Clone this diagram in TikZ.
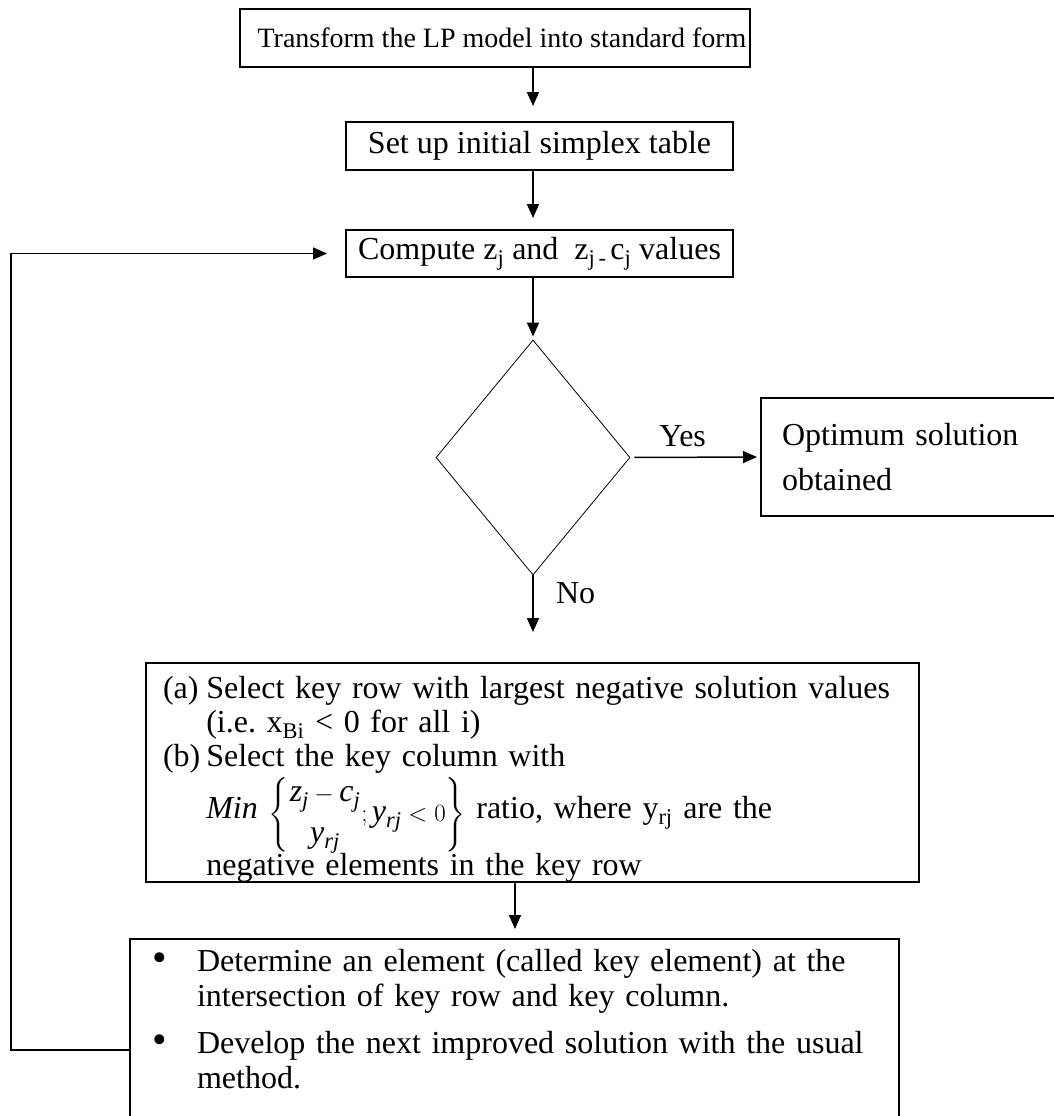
\documentclass[tikz,border=0pt]{standalone}
\usepackage{fontspec}
\setmainfont{Liberation Serif}
\usepackage{amsmath}
\usetikzlibrary{arrows.meta, shapes.geometric, positioning}

\begin{document}
\begin{tikzpicture}[x=1pt, y=-1pt,
    every node/.style={font=\fontsize{32}{34}\selectfont},
    box/.style={draw, line width=1.5pt, inner sep=0pt, outer sep=0pt},
    arr/.style={-{Triangle[length=14pt,width=12pt]}, line width=1.5pt}]
  \useasboundingbox (0,0) rectangle (1053,1116);
  % boxes down the middle
  \node[box, minimum width=510pt, minimum height=58pt, font=\fontsize{28}{34}\selectfont] (std) at (495,38) {\hspace*{14pt}Transform the LP model into standard form};
  \node[box, minimum width=387pt, minimum height=48pt] (init) at (539.5,146) {Set up initial simplex table};
  \node[box, minimum width=387pt, minimum height=47pt] (comp) at (539.5,253.5) {Compute z\textsubscript{j} and \ z\textsubscript{j\,-\,}c\textsubscript{j} values};
  \node[draw, diamond, aspect=0.83, minimum width=194pt, minimum height=235pt, inner sep=0pt, line width=0.8pt] (dec) at (533,457.5) {};
  \node[box, anchor=west, text width=280pt, inner xsep=21pt, minimum height=118pt, align=left, font=\fontsize{32}{45}\selectfont] (opt) at (761,457) {Optimum solution\\obtained};
  % key row / key column
  \node[box, text width=739pt, inner xsep=17pt, minimum height=219pt, align=left] (key) at (532.5,772.5) {%
    \raisebox{-7.5pt}[\height][\depth]{\begin{tabular}{@{}l@{\hspace{6pt}}l@{}}
      (a) & Select key row with largest negative solution values\\
          & (i.e.\ x\textsubscript{Bi} < 0 for all i)\\
      (b) & Select the key column with\\
          & \raisebox{0pt}[42pt][33pt]{$\mathit{Min}\ \raisebox{-3pt}{$\left\{\genfrac{}{}{0pt}{0}{\mathit{z}_{\mathit{j}}-\mathit{c}_{\mathit{j}}\rule[-7pt]{0pt}{7pt}}{\rule{0pt}{23pt}\mathit{y}_{\mathit{rj}}};\mathit{y}_{\mathit{rj}}<0\right\}$}$} ratio, where y\textsubscript{rj} are the\\
          & negative elements in the key row
    \end{tabular}}};
  % key element
  \node[box, anchor=north west, text width=725pt, inner xsep=22pt, inner ysep=8pt, align=left, font=\fontsize{32}{35}\selectfont] (elem) at (130,939) {%
    \begin{tabular}{@{}p{45pt}@{}l@{}}
      \scalebox{1.3}{\textbullet} & Determine an element (called key element) at the\\
                  & intersection of key row and key column.\\[12pt]
      \scalebox{1.3}{\textbullet} & Develop the next improved solution with the usual\\
                  & method.\\
      \rule{0pt}{60pt} &
    \end{tabular}};
  % connectors
  \draw[arr, shorten >=16pt] (std.south -| dec) -- (init.north -| dec);
  \draw[arr, shorten >=12pt] (init.south -| dec) -- (comp.north -| dec);
  \draw[arr, shorten >=3pt] (comp.south -| dec) -- (dec.north);
  \draw[arr, shorten <=4pt, shorten >=4pt] (dec.east) -- node[above=6pt, pos=0.4] {Yes} (opt.west);
  \draw[arr, shorten >=31pt] (dec.south) -- node[right=19pt, pos=0.2] {No} (key.north -| dec);
  \draw[arr, shorten >=10pt] (key.south -| 515,0) -- (elem.north -| 515,0);
  % back to compute
  \coordinate (loop) at (11,1050);
  \draw[arr, shorten >=19pt] (loop -| elem.west) -- (loop) |- (comp.west);
\end{tikzpicture}
\end{document}
